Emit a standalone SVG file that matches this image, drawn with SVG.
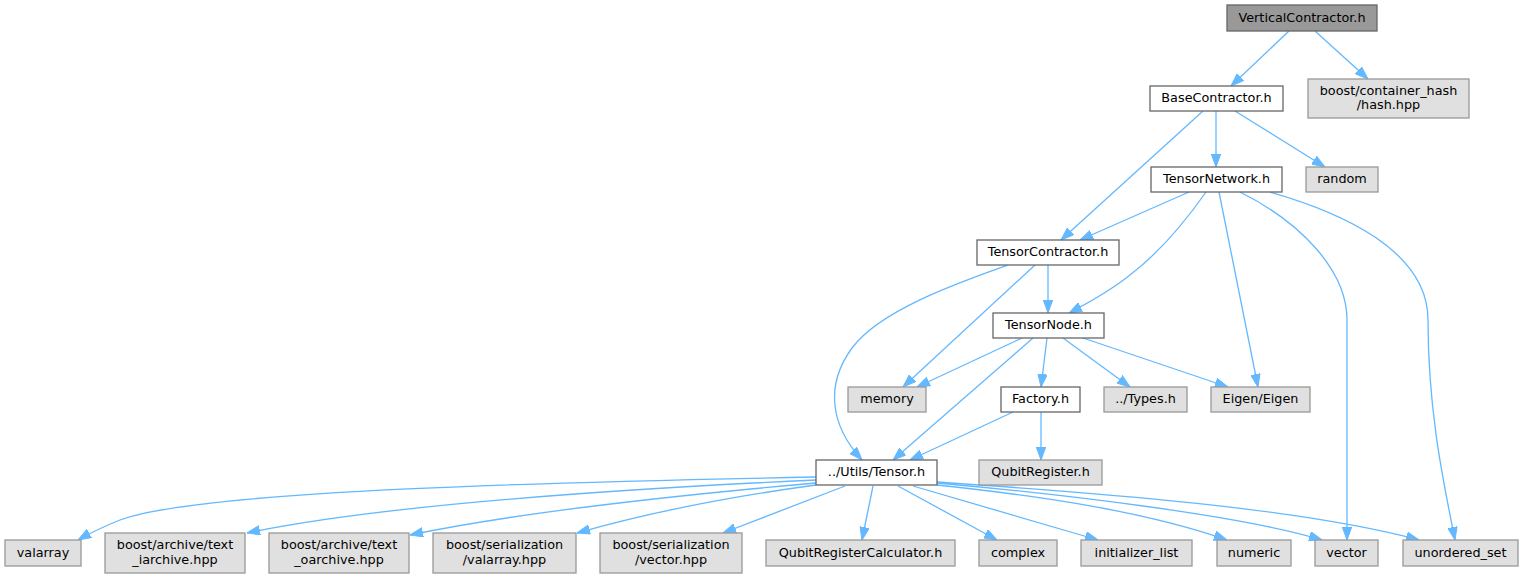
<svg xmlns="http://www.w3.org/2000/svg" width="1523" height="579" viewBox="0 0 1523 579">
<style>
.n rect{stroke-width:1.3}
.root rect{fill:#999999;stroke:#666666}
.w rect{fill:#ffffff;stroke:#666666}
.g rect{fill:#e0e0e0;stroke:#999999}
text{font-family:"DejaVu Sans","Liberation Sans",sans-serif;font-size:12.8px;fill:#000;text-anchor:middle}
#edges path{fill:none;stroke:#63b8ff;stroke-width:1.3;marker-end:url(#ah)}
</style>
<defs>
<marker id="ah" markerUnits="userSpaceOnUse" markerWidth="13" markerHeight="10" viewBox="0 0 13 10" refX="13" refY="5" orient="auto">
<path d="M0,0.3 L13,5 L0,9.7 Z" fill="#63b8ff" stroke="#63b8ff" stroke-width="1"/>
</marker>
</defs>
<rect width="1523" height="579" fill="#ffffff"/>
<g id="edges">
<path d="M1289,31 L1231,86"/>
<path d="M1315,31 L1368,79"/>
<path d="M1216,111 L1216,167"/>
<path d="M1235,111 L1325,167"/>
<path d="M1203,111 L1061,240"/>
<path d="M1189,192 L1080,240"/>
<path d="M1206,192 C1185,222 1160,252 1130,275 C1110,291 1090,302 1069,313"/>
<path d="M1219,192 L1258,387"/>
<path d="M1240,192 C1300,222 1347,270 1347,320 L1347,540"/>
<path d="M1270,192 C1340,212 1428,250 1428,320 C1428,410 1443,480 1455,540"/>
<path d="M1048,265 L1048,313"/>
<path d="M1035,265 L903,387"/>
<path d="M1008,265 C960,282 880,310 852,348 C825,385 830,425 862,460"/>
<path d="M1022,338 L917,387"/>
<path d="M1033,338 L893,460"/>
<path d="M1047,338 L1041,387"/>
<path d="M1063,338 L1130,387"/>
<path d="M1083,338 L1228,387"/>
<path d="M1013,412 L910,460"/>
<path d="M1041,412 L1041,460"/>
<path d="M816,477 C560,482 200,490 120,520 C105,526 92,532 78,540"/>
<path d="M816,480 C600,490 380,505 247,533"/>
<path d="M816,483 C680,495 520,512 410,535"/>
<path d="M816,485 C720,498 640,515 577,533"/>
<path d="M845,486 L723,533"/>
<path d="M873,486 L862,540"/>
<path d="M898,486 L997,540"/>
<path d="M913,486 L1098,540"/>
<path d="M937,485 C1050,497 1150,513 1227,540"/>
<path d="M937,483 C1060,494 1240,515 1322,540"/>
<path d="M937,482 C1100,493 1300,508 1419,540"/>
</g>
<g id="node_VerticalContractor" class="n root"><rect x="1227" y="5" width="150" height="26"/><text x="1302" y="21.5">VerticalContractor.h</text></g>
<g id="node_BaseContractor" class="n w"><rect x="1150" y="86" width="133" height="25"/><text x="1216.5" y="102.3">BaseContractor.h</text></g>
<g id="node_hash" class="n g"><rect x="1308" y="79" width="161" height="39"/><text x="1388.5" y="94.5">boost/container_hash</text><text x="1388.5" y="109">/hash.hpp</text></g>
<g id="node_TensorNetwork" class="n w"><rect x="1151" y="167" width="131" height="25"/><text x="1216.5" y="183.3">TensorNetwork.h</text></g>
<g id="node_random" class="n g"><rect x="1306" y="167" width="72" height="25"/><text x="1342" y="183.3">random</text></g>
<g id="node_TensorContractor" class="n w"><rect x="977" y="240" width="142" height="25"/><text x="1048" y="256.3">TensorContractor.h</text></g>
<g id="node_TensorNode" class="n w"><rect x="993" y="313" width="111" height="25"/><text x="1048.5" y="329.3">TensorNode.h</text></g>
<g id="node_memory" class="n g"><rect x="848" y="387" width="78" height="25"/><text x="887" y="403.3">memory</text></g>
<g id="node_Factory" class="n w"><rect x="1001" y="387" width="79" height="25"/><text x="1040.5" y="403.3">Factory.h</text></g>
<g id="node_Types" class="n g"><rect x="1104" y="387" width="83" height="25"/><text x="1145.5" y="403.3">../Types.h</text></g>
<g id="node_Eigen" class="n g"><rect x="1211" y="387" width="99" height="25"/><text x="1260.5" y="403.3">Eigen/Eigen</text></g>
<g id="node_Tensor" class="n w"><rect x="816" y="460" width="121" height="25"/><text x="876.5" y="476.3">../Utils/Tensor.h</text></g>
<g id="node_QubitRegister" class="n g"><rect x="979" y="460" width="123" height="25"/><text x="1040.5" y="476.3">QubitRegister.h</text></g>
<g id="node_valarray" class="n g"><rect x="5" y="540" width="76" height="26"/><text x="43" y="556.5">valarray</text></g>
<g id="node_text_iarchive" class="n g"><rect x="105" y="533" width="140" height="40"/><text x="175" y="549">boost/archive/text</text><text x="175" y="563.5">_iarchive.hpp</text></g>
<g id="node_text_oarchive" class="n g"><rect x="269" y="533" width="140" height="40"/><text x="339" y="549">boost/archive/text</text><text x="339" y="563.5">_oarchive.hpp</text></g>
<g id="node_ser_valarray" class="n g"><rect x="433" y="533" width="143" height="40"/><text x="504.5" y="549">boost/serialization</text><text x="504.5" y="563.5">/valarray.hpp</text></g>
<g id="node_ser_vector" class="n g"><rect x="600" y="533" width="142" height="40"/><text x="671" y="549">boost/serialization</text><text x="671" y="563.5">/vector.hpp</text></g>
<g id="node_QRC" class="n g"><rect x="766" y="540" width="189" height="26"/><text x="860.5" y="556.5">QubitRegisterCalculator.h</text></g>
<g id="node_complex" class="n g"><rect x="979" y="540" width="78" height="26"/><text x="1018" y="556.5">complex</text></g>
<g id="node_initializer_list" class="n g"><rect x="1081" y="540" width="111" height="26"/><text x="1136.5" y="556.5">initializer_list</text></g>
<g id="node_numeric" class="n g"><rect x="1217" y="540" width="74" height="26"/><text x="1254" y="556.5">numeric</text></g>
<g id="node_vector" class="n g"><rect x="1315" y="540" width="63" height="26"/><text x="1346.5" y="556.5">vector</text></g>
<g id="node_unordered_set" class="n g"><rect x="1403" y="540" width="115" height="26"/><text x="1460.5" y="556.5">unordered_set</text></g>
</svg>
